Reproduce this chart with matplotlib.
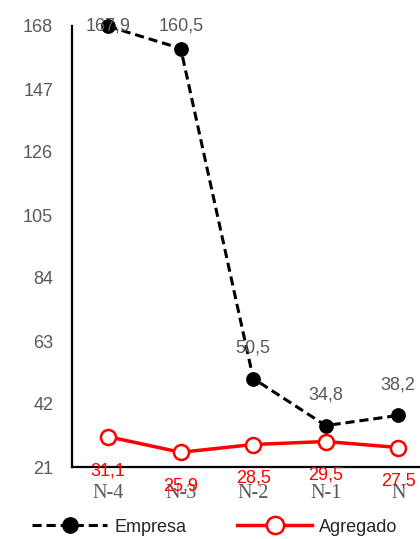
import matplotlib
matplotlib.use("Agg")
import matplotlib.pyplot as plt
from matplotlib import font_manager as fm

categories = ["N-4", "N-3", "N-2", "N-1", "N"]
empresa = [167.9, 160.5, 50.5, 34.8, 38.2]
agregado = [31.1, 25.9, 28.5, 29.5, 27.5]
yticks = [21, 42, 63, 84, 105, 126, 147, 168]

names = {f.name for f in fm.fontManager.ttflist}
narrow = "Liberation Sans Narrow" if "Liberation Sans Narrow" in names else "Liberation Sans"
gray = "#595959"

W, H = 420, 539
fig = plt.figure(figsize=(W / 100, H / 100), dpi=100)
ax = fig.add_axes([72 / W, (H - 467) / H, 362.5 / W, 441 / H])

x = list(range(len(categories)))
ax.plot(x, empresa, color="black", lw=2.2, ls=(0, (3, 1.6)), marker="o",
        ms=9.6, mfc="black", mec="black", label="Empresa", clip_on=False, zorder=3)
ax.plot(x, agregado, color="#FF0000", lw=2.5, marker="o", ms=10.8,
        mfc="white", mec="#FF0000", mew=1.8, label="Agregado", clip_on=False, zorder=3)

ax.set_xlim(-0.5, 4.5)
ax.set_ylim(21, 168)
ax.set_yticks(yticks)
ax.set_yticklabels([str(t) for t in yticks], family=narrow, fontsize=13, color=gray)
ax.set_xticks(x)
ax.set_xticklabels(categories, family="Liberation Serif", fontsize=14.5, color=gray)
ax.tick_params(axis="both", length=0)
ax.tick_params(axis="y", pad=13.5)
ax.tick_params(axis="x", pad=12)
for s in ["top", "right"]:
    ax.spines[s].set_visible(False)
for s in ["left", "bottom"]:
    ax.spines[s].set_linewidth(1.6)
    ax.spines[s].set_color("black")

def fmt(v):
    return f"{v:.1f}".replace(".", ",")

for xi, v in zip(x, empresa):
    ax.text(xi, min(v + 10.3, 168), fmt(v), ha="center", va="center",
            family=narrow, fontsize=13, color=gray, zorder=4)
for xi, v in zip(x, agregado):
    ax.text(xi, v - 11.3, fmt(v), ha="center", va="center",
            family=narrow, fontsize=13, color="#FF0000", zorder=4, clip_on=False)

fig.legend(loc="center", bbox_to_anchor=(215 / W, (H - 527) / H), ncol=2,
           frameon=False, prop={"family": narrow, "size": 13},
           handlelength=4.15, columnspacing=2.83, handletextpad=0.38,
           markerscale=1.15, labelcolor="#262626")

fig.savefig("out.png", dpi=100)
